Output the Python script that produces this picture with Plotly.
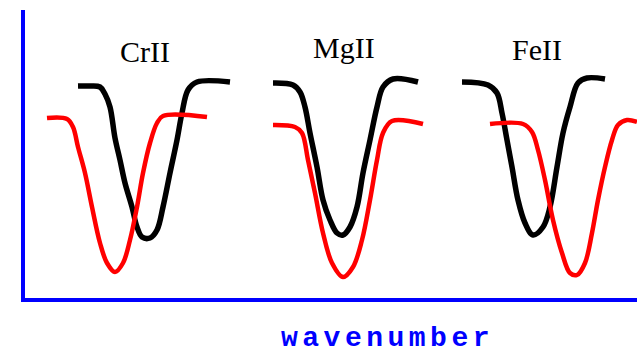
import plotly.graph_objects as go

# Absorption profiles for three ions: black = reference spectrum, red = shifted spectrum.
# x: wavenumber (arbitrary units), y: relative intensity above the baseline.

crii_black_x = [53, 65, 75, 80, 85, 90, 95, 100, 107, 112, 117, 125, 132, 138, 145, 152, 157, 163, 172, 205]
crii_black_y = [212, 212, 211, 204, 191, 160, 138, 115, 91, 71, 61, 60, 68, 91, 125, 158, 185, 208, 216, 216]

crii_red_x = [22, 42, 48, 53, 60, 67, 75, 82, 90, 98, 105, 112, 118, 125, 132, 138, 182]
crii_red_y = [180, 179, 171, 151, 125, 91, 55, 35, 26, 35, 58, 91, 125, 155, 175, 182, 181]

mgii_black_x = [248, 268, 275, 280, 285, 292, 298, 305, 312, 318, 325, 332, 338, 345, 352, 358, 368, 393]
mgii_black_y = [215, 213, 206, 191, 165, 131, 98, 78, 65, 63, 71, 91, 125, 158, 191, 211, 219, 216]

mgii_red_x = [248, 270, 277, 283, 290, 298, 307, 318, 328, 337, 345, 352, 358, 367, 398]
mgii_red_y = [173, 171, 165, 138, 105, 65, 35, 21, 31, 58, 98, 138, 165, 177, 174]

feii_black_x = [437, 463, 472, 477, 482, 487, 493, 500, 508, 518, 525, 532, 538, 545, 553, 562, 580]
feii_black_y = [216, 213, 205, 185, 158, 131, 98, 75, 63, 71, 91, 131, 165, 191, 215, 220, 219]

feii_red_x = [465, 498, 507, 513, 520, 528, 537, 545, 552, 560, 567, 573, 580, 587, 593, 602, 612]
feii_red_y = [174, 174, 166, 148, 118, 78, 45, 25, 23, 35, 65, 98, 131, 158, 173, 178, 176]

ion_labels = ["CrII", "MgII", "FeII"]
ion_label_x = [120, 319, 512]
ion_label_y = [247, 251, 249]

axis_title = "wavenumber"

BLACK = "#000000"
RED = "#ff0000"
BLUE = "#0000ff"

fig = go.Figure()

profiles = [
    (crii_black_x, crii_black_y, BLACK, 5.5),
    (crii_red_x, crii_red_y, RED, 4.5),
    (mgii_black_x, mgii_black_y, BLACK, 5.5),
    (mgii_red_x, mgii_red_y, RED, 4.5),
    (feii_black_x, feii_black_y, BLACK, 5.5),
    (feii_red_x, feii_red_y, RED, 4.5),
]
for xs, ys, color, width in profiles:
    fig.add_trace(go.Scatter(
        x=xs, y=ys, mode="lines",
        line=dict(color=color, width=width, shape="spline", smoothing=1.0),
        hoverinfo="skip", showlegend=False,
    ))

for text, lx, ly in zip(ion_labels, ion_label_x, ion_label_y):
    fig.add_annotation(
        x=lx, y=ly, xref="x", yref="y", text=text, showarrow=False,
        font=dict(family="Liberation Serif, Times New Roman, serif", size=30, color=BLACK),
        xanchor="center", yanchor="middle",
    )

fig.add_annotation(
    x=0.593, y=-0.14, xref="paper", yref="paper",
    text=f'<span style="letter-spacing:4.5px">{axis_title}</span>',
    showarrow=False,
    font=dict(family="Liberation Mono, Courier New, monospace", size=28, color=BLUE, weight="bold"),
    xanchor="center", yanchor="middle",
)

axis_style = dict(
    showline=True, linecolor=BLUE, linewidth=4,
    showgrid=False, zeroline=False, showticklabels=False, ticks="",
    fixedrange=True,
)
fig.update_xaxes(range=[0, 612], **axis_style)
fig.update_yaxes(range=[0, 288], **axis_style)

fig.update_layout(
    width=637, height=347,
    margin=dict(l=25, r=0, t=10, b=49),
    paper_bgcolor="white", plot_bgcolor="white",
)

fig.write_html("out.html")
